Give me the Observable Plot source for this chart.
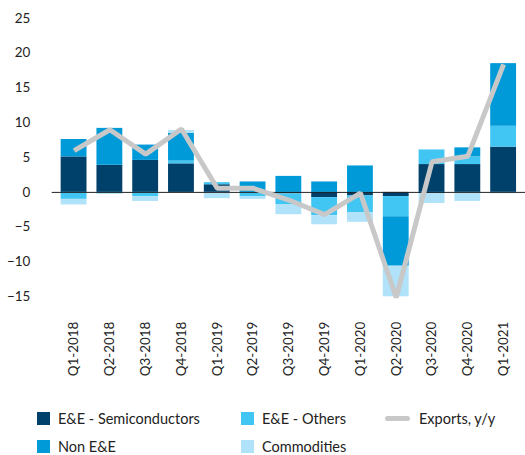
<!DOCTYPE html>
<html>
<head>
<meta charset="utf-8">
<script src="https://cdn.jsdelivr.net/npm/d3@7"></script>
<script src="https://cdn.jsdelivr.net/npm/@observablehq/plot@0.6"></script>
<style>
  html, body { margin: 0; padding: 0; background: #fff; overflow: hidden; }
  #wrap { position: relative; width: 525px; height: 455px; font-family: Lato, "Open Sans", sans-serif; color: #222; }
  #legend { position: absolute; left: 0; top: 0; width: 525px; height: 455px; pointer-events: none; }
  .item { position: absolute; display: flex; align-items: center; font-size: 14.5px; white-space: nowrap; }
  .sw { width: 13px; height: 13px; margin-right: 8px; }
  .ln { width: 25px; height: 5px; border-radius: 3px; margin-right: 9px; background: #c8c8c8; }
</style>
</head>
<body>
<div id="wrap"><div id="chart"></div><div id="legend"></div></div>
<script>
const quarters = ["Q1-2018","Q2-2018","Q3-2018","Q4-2018","Q1-2019","Q2-2019","Q3-2019","Q4-2019","Q1-2020","Q2-2020","Q3-2020","Q4-2020","Q1-2021"];
const semis       = [5.1, 3.9, 4.6, 4.1, 1.1, 0.0, -0.2, -0.75, -0.5, -0.6, 4.0, 4.0, 6.5];
const eeOthers    = [-1.0, -0.2, -0.6, 0.4, 0.3, -0.6, -1.6, -2.6, -2.4, -2.9, 2.1, 1.1, 3.0];
const nonEE       = [2.5, 5.3, 2.2, 4.0, 0.0, 1.5, 2.3, 1.5, 3.8, -7.1, -0.2, 1.3, 9.0];
const commodities = [-0.8, -0.1, -0.7, 0.4, -0.9, -0.4, -1.4, -1.3, -1.4, -4.4, -1.4, -1.3, -0.2];
const exportsYY   = [6.0, 9.0, 5.5, 9.1, 0.6, 0.6, -1.1, -3.2, -0.1, -15.1, 4.4, 5.2, 18.4];

const seriesNames = ["E&E - Semiconductors", "E&E - Others", "Non E&E", "Commodities"];
const seriesColors = ["#00416b", "#41c5f2", "#009ad9", "#b0e2fa"];
const seriesValues = [semis, eeOthers, nonEE, commodities];
const yTicks = [-15, -10, -5, 0, 5, 10, 15, 20, 25];

const rows = [];
seriesNames.forEach((s, si) => quarters.forEach((q, qi) => rows.push({q, s, v: seriesValues[si][qi]})));
const lineData = quarters.map((q, i) => ({q, v: exportsYY[i]}));

const plot = Plot.plot({
  width: 528,
  height: 395,
  marginLeft: 52,
  marginRight: 0,
  marginTop: 18,
  marginBottom: 97,
  style: {fontFamily: "Lato, 'Open Sans', sans-serif", fontSize: "13.5px", color: "#222", overflow: "visible"},
  x: {domain: quarters, paddingInner: 0.29, paddingOuter: 0.14, label: null, tickSize: 0, tickRotate: -90, tickPadding: 25},
  y: {domain: [-15, 25], ticks: yTicks, label: null, tickSize: 0, tickPadding: 22},
  color: {domain: seriesNames, range: seriesColors},
  marks: [
    Plot.barY(rows, Plot.stackY({x: "q", y: "v", fill: "s", order: seriesNames})),
    Plot.ruleY([0], {stroke: "#222", strokeWidth: 1}),
    Plot.line(lineData, {x: "q", y: "v", stroke: "#c8c8c8", strokeWidth: 5, strokeLinejoin: "miter", strokeLinecap: "butt"})
  ]
});
document.getElementById("chart").appendChild(plot);

const legendItems = [
  {label: "E&E - Semiconductors", color: seriesColors[0], x: 37, y: 418},
  {label: "E&E - Others", color: seriesColors[1], x: 241, y: 418},
  {label: "Exports, y/y", line: true, x: 385, y: 418},
  {label: "Non E&E", color: seriesColors[2], x: 37, y: 446},
  {label: "Commodities", color: seriesColors[3], x: 241, y: 446}
];
const leg = document.getElementById("legend");
legendItems.forEach(it => {
  const d = document.createElement("div");
  d.className = "item";
  d.style.left = it.x + "px";
  d.style.top = (it.y - 10) + "px";
  d.style.height = "20px";
  const sw = document.createElement("span");
  if (it.line) { sw.className = "ln"; } else { sw.className = "sw"; sw.style.background = it.color; }
  const t = document.createElement("span");
  t.textContent = it.label;
  d.appendChild(sw); d.appendChild(t);
  leg.appendChild(d);
});
</script>
</body>
</html>
